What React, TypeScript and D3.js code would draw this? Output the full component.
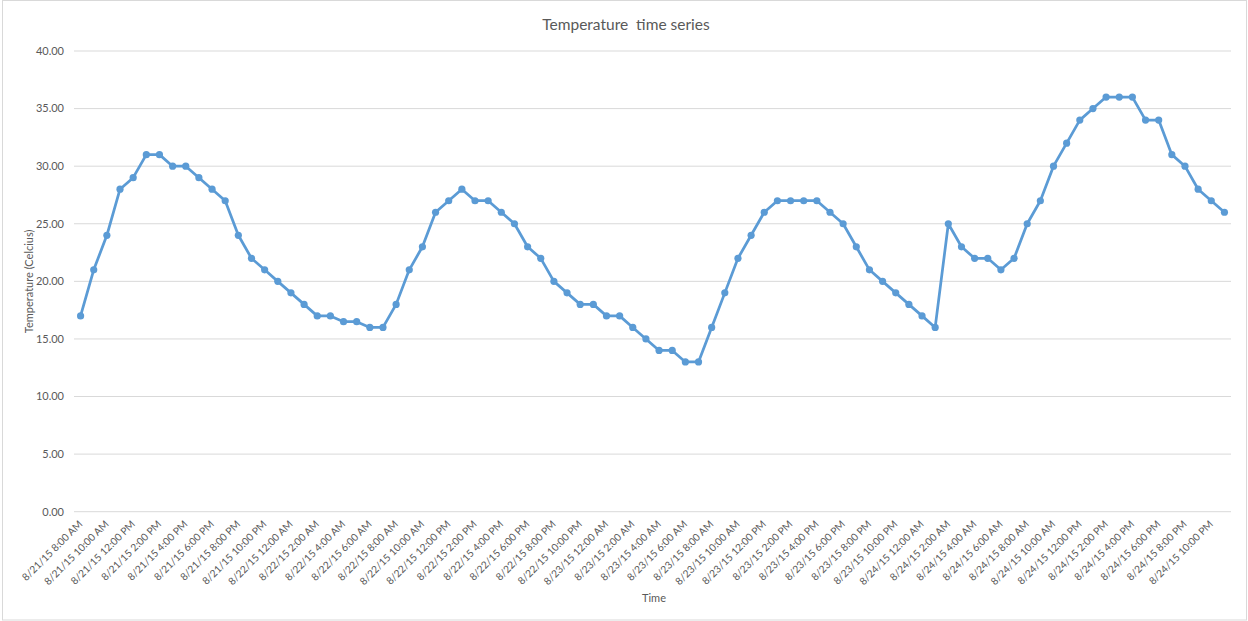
import React from "react";
import * as d3 from "d3";

// hourly readings, starting 8/21/15 8:00 AM
const temperatures = [
  17, 21, 24, 28, 29, 31, 31, 30, 30, 29, 28, 27, 24, 22, 21, 20, 19, 18, 17, 17, 16.5, 16.5, 16, 16,
  18, 21, 23, 26, 27, 28, 27, 27, 26, 25, 23, 22, 20, 19, 18, 18, 17, 17, 16, 15, 14, 14, 13, 13,
  16, 19, 22, 24, 26, 27, 27, 27, 27, 26, 25, 23, 21, 20, 19, 18, 17, 16, 25, 23, 22, 22, 21, 22,
  25, 27, 30, 32, 34, 35, 36, 36, 36, 34, 34, 31, 30, 28, 27, 26,
];
const startTime = new Date(2015, 7, 21, 8);
const yTicks = [0, 5, 10, 15, 20, 25, 30, 35, 40];

const W = 1248;
const H = 621;
const plot = { left: 74, right: 1231, top: 51, bottom: 511.7 };
const COLOR = "#5b9bd5";
const TEXT = "#595959";
const FONT = "Lato, 'Open Sans', sans-serif";

const fmt = d3.timeFormat("%-m/%-d/%y %-I:%M %p");
const times = temperatures.map((_, i) => d3.timeHour.offset(startTime, i));
const categories = times.map(fmt);

export default function App() {
  const x = d3
    .scaleBand<string>()
    .domain(categories)
    .range([plot.left, plot.right])
    .padding(0);
  const cx = (c: string) => (x(c) as number) + x.bandwidth() / 2;
  const y = d3.scaleLinear().domain([0, 40]).range([plot.bottom, plot.top]);

  const line = d3
    .line<number>()
    .x((_, i) => cx(categories[i]))
    .y((d) => y(d));

  return (
    <div style={{ position: "absolute", left: 0, top: 0 }}>
      <svg width={W} height={H} style={{ display: "block", fontFamily: FONT }}>
        <rect x={0} y={0} width={W} height={H} fill="#fff" />
        <rect x={2.5} y={0.5} width={W - 4} height={H - 1.5} fill="none" stroke="#d9d9d9" />

        <text x={626} y={30} textAnchor="middle" fontSize={15.5} fill={TEXT} style={{ whiteSpace: "pre" }}>
          {"Temperature  time series"}
        </text>

        {yTicks.map((t) => (
          <g key={t}>
            <line x1={plot.left} x2={plot.right} y1={y(t)} y2={y(t)} stroke="#d9d9d9" strokeWidth={1} />
            <text x={64} y={y(t)} dy="0.35em" textAnchor="end" fontSize={11} fill={TEXT}>
              {d3.format(".2f")(t)}
            </text>
          </g>
        ))}

        {categories.map((c, i) =>
          i % 2 === 0 ? (
            <text
              key={c}
              transform={`translate(${cx(c)},${plot.bottom + 10.5}) rotate(-45)`}
              textAnchor="end"
              dy="0.35em"
              fontSize={10.2}
              fill={TEXT}
            >
              {c}
            </text>
          ) : null
        )}

        <path d={line(temperatures) as string} fill="none" stroke={COLOR} strokeWidth={2.75} strokeLinejoin="round" />
        {temperatures.map((v, i) => (
          <circle key={i} cx={cx(categories[i])} cy={y(v)} r={3.6} fill={COLOR} />
        ))}

        <text
          transform={`translate(33,${(plot.top + plot.bottom) / 2}) rotate(-90)`}
          textAnchor="middle"
          fontSize={11}
          fill={TEXT}
        >
          Temperature (Celcius)
        </text>
        <text x={654} y={602} textAnchor="middle" fontSize={11} fill={TEXT}>
          Time
        </text>
      </svg>
    </div>
  );
}
